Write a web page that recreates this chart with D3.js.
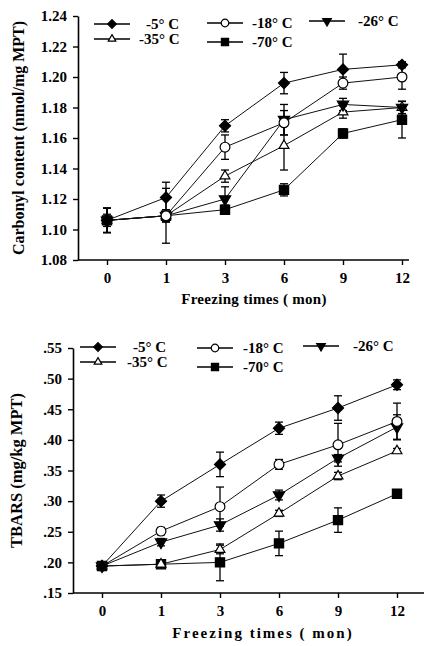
<!DOCTYPE html>
<html>
<head>
<meta charset="utf-8">
<script src="https://cdn.jsdelivr.net/npm/d3@7"></script>
<style>
  body { margin: 0; background: #fff; }
  svg { display: block; }
  text { font-family: "Liberation Serif", "Times New Roman", serif; font-weight: bold; fill: #000; }
</style>
</head>
<body>
<svg></svg>
<script>
// data
const months = ['0', '1', '3', '6', '9', '12']
const series = ['-5° C', '-18° C', '-26° C', '-35° C', '-70° C']

const carbonyl5 = [1.106, 1.121, 1.168, 1.196, 1.205, 1.208]
const carbonyl18 = [1.106, 1.109, 1.154, 1.170, 1.196, 1.200]
const carbonyl26 = [1.106, 1.109, 1.120, 1.172, 1.182, 1.180]
const carbonyl35 = [1.106, 1.109, 1.135, 1.155, 1.177, 1.180]
const carbonyl70 = [1.106, 1.109, 1.113, 1.126, 1.163, 1.172]
const carbonylErr5 = [0.008, 0.010, 0.004, 0.007, 0.010, 0.002]
const carbonylErr18 = [0.008, 0.004, 0.008, 0.008, 0.004, 0.008]
const carbonylErr26 = [0.008, 0.004, 0.008, 0.010, 0.004, 0.004]
const carbonylErr35 = [0.004, 0.004, 0.004, 0.016, 0.004, 0.004]
const carbonylErr70 = [0.008, 0.018, 0.003, 0.004, 0.003, 0.012]
const carbonylTicks = [1.08, 1.10, 1.12, 1.14, 1.16, 1.18, 1.20, 1.22, 1.24]

const tbars5 = [0.194, 0.300, 0.360, 0.419, 0.452, 0.490]
const tbars18 = [0.194, 0.251, 0.291, 0.360, 0.392, 0.430]
const tbars26 = [0.194, 0.233, 0.261, 0.310, 0.370, 0.421]
const tbars35 = [0.194, 0.197, 0.221, 0.280, 0.341, 0.382]
const tbars70 = [0.194, 0.197, 0.200, 0.231, 0.269, 0.312]
const tbarsErr5 = [0.006, 0.010, 0.020, 0.010, 0.020, 0.008]
const tbarsErr18 = [0.006, 0.006, 0.032, 0.008, 0.035, 0.030]
const tbarsErr26 = [0.006, 0.006, 0.010, 0.008, 0.006, 0.020]
const tbarsErr35 = [0.006, 0.004, 0.007, 0.005, 0.006, 0.004]
const tbarsErr70 = [0.006, 0.004, 0.030, 0.020, 0.020, 0.006]
const tbarsTicks = [0.15, 0.20, 0.25, 0.30, 0.35, 0.40, 0.45, 0.50, 0.55]

const width = 424
const height = 646

let svg = d3.select('svg').attr('width', width).attr('height', height)

// marker per series: symbol type, filled?, size, rotation
const markers = [
    { type: d3.symbolSquare, fill: '#000', size: 62, rotate: 45 },
    { type: d3.symbolCircle, fill: '#fff', size: 75, rotate: 0 },
    { type: d3.symbolTriangle, fill: '#000', size: 55, rotate: 180 },
    { type: d3.symbolTriangle, fill: '#fff', size: 42, rotate: 0 },
    { type: d3.symbolSquare, fill: '#000', size: 85, rotate: 0 }
]

function drawMarker(g, i, x, y, scale) {
    let m = markers[i]
    g.append('path')
        .attr('d', d3.symbol().type(m.type).size(m.size * (scale || 1))())
        .attr('transform', `translate(${x},${y}) rotate(${m.rotate})`)
        .attr('fill', m.fill)
        .attr('stroke', '#000')
        .attr('stroke-width', 1.2)
}

function drawPanel(opt) {
    let g = svg.append('g')
    let xScale = d3.scalePoint().domain(months).range(opt.xRange)
    let yScale = d3.scaleLinear().domain(opt.yDomain).range(opt.yRange)

    // y axis
    let yAxis = d3.axisLeft(yScale)
        .tickValues(opt.ticks)
        .tickFormat(opt.fmt)
        .tickSize(5)
        .tickSizeOuter(0)
        .tickPadding(6)
    g.append('g')
        .attr('transform', `translate(${opt.axisX},0)`)
        .call(yAxis)
        .call(a => a.select('.domain').attr('stroke-width', 1.6))
        .call(a => a.selectAll('.tick line').attr('stroke-width', 1.4))
        .call(a => a.selectAll('text').style('font-size', '15px'))

    // x axis
    let xAxis = d3.axisBottom(xScale).tickSize(5).tickSizeOuter(0).tickPadding(7)
    g.append('g')
        .attr('transform', `translate(0,${opt.yRange[0]})`)
        .call(xAxis)
        .call(a => a.select('.domain').remove())
        .call(a => a.selectAll('.tick line').attr('stroke-width', 1.4))
        .call(a => a.selectAll('text').style('font-size', '15px'))
    g.append('line')
        .attr('x1', opt.axisX).attr('x2', opt.xEnd)
        .attr('y1', opt.yRange[0]).attr('y2', opt.yRange[0])
        .attr('stroke', '#000').attr('stroke-width', 1.6)

    // lines
    let line = d3.line().x((d, i) => xScale(months[i])).y(d => yScale(d))
    opt.values.forEach((vals, s) => {
        g.append('path')
            .datum(vals)
            .attr('d', line)
            .attr('fill', 'none')
            .attr('stroke', '#111')
            .attr('stroke-width', 1)
    })

    // error bars
    opt.values.forEach((vals, s) => {
        vals.forEach((v, i) => {
            let x = xScale(months[i])
            let e = opt.errors[s][i]
            let y1 = yScale(v - e), y2 = yScale(v + e)
            g.append('line').attr('x1', x).attr('x2', x).attr('y1', y1).attr('y2', y2)
                .attr('stroke', '#000').attr('stroke-width', 1.3)
            ;[y1, y2].forEach(yy => {
                g.append('line').attr('x1', x - 4).attr('x2', x + 4).attr('y1', yy).attr('y2', yy)
                    .attr('stroke', '#000').attr('stroke-width', 1.3)
            })
        })
    })

    // markers (coldest drawn first, so -5 ends on top)
    for (let s = opt.values.length - 1; s >= 0; s--) {
        opt.values[s].forEach((v, i) => drawMarker(g, s, xScale(months[i]), yScale(v)))
    }

    // legend
    opt.legend.forEach((p, s) => {
        g.append('line')
            .attr('x1', p[0]).attr('x2', p[0] + 36)
            .attr('y1', p[1]).attr('y2', p[1])
            .attr('stroke', '#000').attr('stroke-width', 1.5)
        drawMarker(g, s, p[0] + 18, p[1], 0.6)
        g.append('text')
            .attr('x', p[2]).attr('y', p[1])
            .attr('dy', '0.35em')
            .style('font-size', '15px')
            .text(series[s])
    })

    // axis titles
    g.append('text')
        .attr('transform', `translate(${opt.yTitleX},${(opt.yRange[0] + opt.yRange[1]) / 2}) rotate(-90)`)
        .attr('text-anchor', 'middle')
        .attr('dy', '0.35em')
        .style('font-size', opt.yTitleSize)
        .text(opt.yTitle)
    g.append('text')
        .attr('x', opt.xTitleX).attr('y', opt.xTitleY)
        .attr('text-anchor', 'middle')
        .attr('dy', '0.35em')
        .style('font-size', '15px')
        .style('letter-spacing', opt.xTitleSpacing)
        .text('Freezing times ( mon)')
}

drawPanel({
    xRange: [107, 402], yDomain: [1.08, 1.24], yRange: [260, 16],
    axisX: 78, xEnd: 409, ticks: carbonylTicks, fmt: d3.format('.2f'),
    values: [carbonyl5, carbonyl18, carbonyl26, carbonyl35, carbonyl70],
    errors: [carbonylErr5, carbonylErr18, carbonylErr26, carbonylErr35, carbonylErr70],
    legend: [[94, 24, 146], [207, 23, 252], [309, 21, 358], [94, 39, 139], [207, 42, 252]],
    yTitle: 'Carbonyl content (nmol/mg MPT)', yTitleX: 18, yTitleSize: '16px',
    xTitleX: 254, xTitleY: 299, xTitleSpacing: '0.3px'
})

drawPanel({
    xRange: [102, 397], yDomain: [0.15, 0.55], yRange: [593, 348],
    axisX: 73, xEnd: 424, ticks: tbarsTicks, fmt: d => d3.format('.2f')(d).replace(/^0/, ''),
    values: [tbars5, tbars18, tbars26, tbars35, tbars70],
    errors: [tbarsErr5, tbarsErr18, tbarsErr26, tbarsErr35, tbarsErr70],
    legend: [[80, 347, 133], [197, 348, 243], [303, 346, 353], [80, 362, 127], [197, 367, 243]],
    yTitle: 'TBARS (mg/kg MPT)', yTitleX: 16, yTitleSize: '16.5px',
    xTitleX: 263, xTitleY: 633, xTitleSpacing: '2px'
})
</script>
</body>
</html>
